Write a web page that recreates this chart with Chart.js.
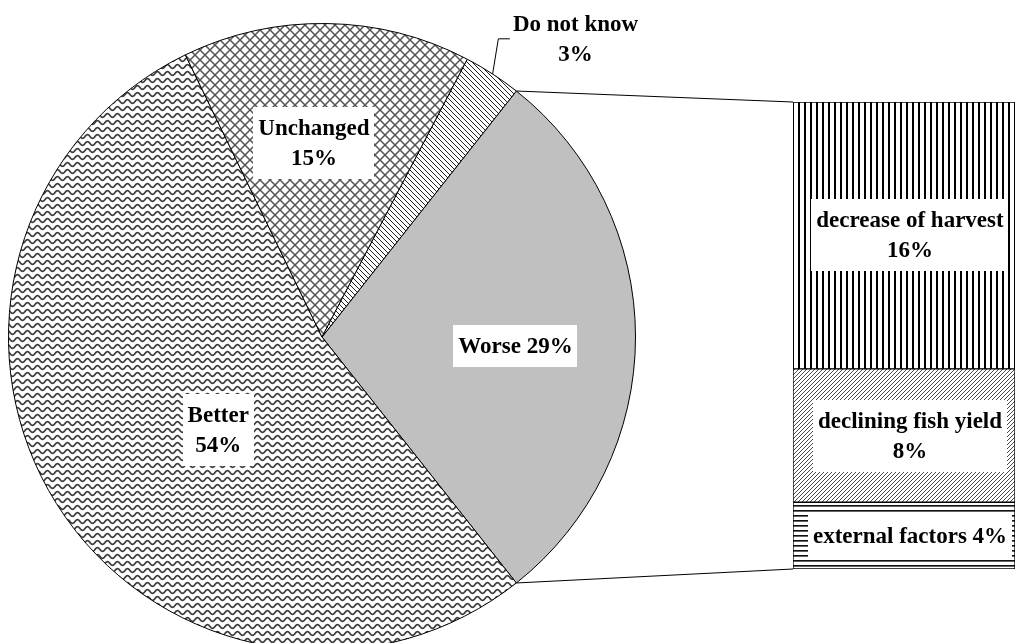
<!DOCTYPE html>
<html>
<head>
<meta charset="utf-8">
<title>Situation compared with before</title>
<script src="https://cdn.jsdelivr.net/npm/chart.js@4.4.1/dist/chart.umd.min.js"></script>
<style>
  html, body { margin: 0; padding: 0; background: #fff; overflow: hidden; }
  #wrap { position: relative; width: 1016px; height: 643px; overflow: hidden; }
  #wrap canvas { position: absolute; left: 0; top: 0; }
</style>
</head>
<body>
<div id="wrap">
  <canvas id="pieChart" width="1016" height="700"></canvas>
  <canvas id="barChart" width="1016" height="643"></canvas>
</div>
<script>
// Answers (share of respondents, %)
const pieLabels = ['Worse', 'Better', 'Unchanged', 'Do not know'];
const pieValues = [29, 54, 15, 3];

// Reasons given by those answering "Worse" (%)
const barLabels = ['decrease of harvest', 'declining fish yield', 'external factors'];
const barValues = [16, 8, 4];

// Label layout: angle in degrees (clockwise from 3 o'clock) and distance as a fraction of the radius
const piePlacement = [
    { angle: 2.7, dist: 0.618, oneLine: true, box: true },
    { angle: 138.2, dist: 0.444, oneLine: false, box: true },
    { angle: 267.6, dist: 0.618, oneLine: false, box: true },
    { angle: -49.65, dist: 1.249, oneLine: false, box: false, leader: { angle: -59.4, dist: 1.105 } }
];
const barPlacement = [
    { oneLine: false },
    { oneLine: false },
    { oneLine: true }
];

const FONT = 'bold 23px "Liberation Serif", "Times New Roman", serif';
const LINE_H = 30;

// Build a repeating fill pattern from a small tile
function makePattern(w, h, draw) {
    const tile = document.createElement('canvas');
    tile.width = w;
    tile.height = h;
    const c = tile.getContext('2d');
    c.fillStyle = '#fff';
    c.fillRect(0, 0, w, h);
    draw(c, w, h);
    return c.createPattern(tile, 'repeat');
}

function diagonal(c, w, h, down) {
    c.beginPath();
    for (let k = -1; k <= 1; k++) {
        if (down) {
            c.moveTo(k * w - 1, -1);
            c.lineTo(k * w + w + 1, h + 1);
        } else {
            c.moveTo(k * w - 1, h + 1);
            c.lineTo(k * w + w + 1, -1);
        }
    }
    c.stroke();
}

const wavePattern = makePattern(10, 7, (c, w, h) => {
    c.strokeStyle = '#3c3c3c';
    c.lineWidth = 1.7;
    c.beginPath();
    for (let x = -1; x <= w + 1; x += 0.5) {
        const y = 3.5 + 1.9 * Math.sin(2 * Math.PI * x / w);
        if (x === -1) c.moveTo(x, y); else c.lineTo(x, y);
    }
    c.stroke();
});

const crossPattern = makePattern(10, 10, (c, w, h) => {
    c.strokeStyle = '#555';
    c.lineWidth = 1.5;
    diagonal(c, w, h, true);
    diagonal(c, w, h, false);
});

const downDiagPattern = makePattern(5, 5, (c, w, h) => {
    c.strokeStyle = '#222';
    c.lineWidth = 1;
    diagonal(c, w, h, true);
});

const upDiagPattern = makePattern(4, 4, (c, w, h) => {
    c.strokeStyle = '#4a4a4a';
    c.lineWidth = 1;
    diagonal(c, w, h, false);
});

const verticalPattern = makePattern(6, 4, (c, w, h) => {
    c.fillStyle = '#000';
    c.fillRect(0, 0, 2, h);
});

const horizontalPattern = makePattern(4, 5, (c, w, h) => {
    c.fillStyle = '#111';
    c.fillRect(0, 0, w, 1);
    c.fillStyle = '#666';
    c.fillRect(0, 1, w, 1);
});

const pieFills = ['#c0c0c0', wavePattern, crossPattern, downDiagPattern];
const barFills = [verticalPattern, upDiagPattern, horizontalPattern];

const pieTotal = pieValues.reduce((a, b) => a + b, 0);
const barTotal = barValues.reduce((a, b) => a + b, 0);

function labelLines(name, value, oneLine) {
    return oneLine ? [name + ' ' + value + '%'] : [name, value + '%'];
}

// White label box with centred bold text
function drawLabel(ctx, cx, cy, lines, withBox) {
    ctx.save();
    ctx.font = FONT;
    ctx.textAlign = 'center';
    ctx.textBaseline = 'middle';
    const maxW = Math.max(...lines.map(l => ctx.measureText(l).width));
    const blockH = 22 + (lines.length - 1) * LINE_H;
    if (withBox) {
        const padX = 5, padY = 10;
        ctx.fillStyle = '#fff';
        ctx.fillRect(Math.round(cx - maxW / 2 - padX), Math.round(cy - blockH / 2 - padY),
            Math.round(maxW + 2 * padX), Math.round(blockH + 2 * padY));
    }
    ctx.fillStyle = '#000';
    lines.forEach((l, i) => {
        ctx.fillText(l, cx, cy + (i - (lines.length - 1) / 2) * LINE_H + 1);
    });
    ctx.restore();
    return maxW;
}

const pieLabelPlugin = {
    id: 'pieLabels',
    afterDraw(chart) {
        const ctx = chart.ctx;
        const arcs = chart.getDatasetMeta(0).data;
        const cx = arcs[0].x, cy = arcs[0].y, r = arcs[0].outerRadius;
        const polar = (deg, f) => {
            const a = deg * Math.PI / 180;
            return { x: cx + Math.cos(a) * r * f, y: cy + Math.sin(a) * r * f };
        };
        piePlacement.forEach((p, i) => {
            const pos = polar(p.angle, p.dist);
            const lines = labelLines(pieLabels[i], pieValues[i], p.oneLine);
            const w = drawLabel(ctx, pos.x, pos.y, lines, p.box);
            if (p.leader) {
                const arc = arcs[i];
                const mid = (arc.startAngle + arc.endAngle) / 2 * 180 / Math.PI;
                const start = polar(mid, 1.0);
                const bend = polar(p.leader.angle, p.leader.dist);
                ctx.save();
                ctx.strokeStyle = '#000';
                ctx.lineWidth = 1;
                ctx.beginPath();
                ctx.moveTo(start.x, start.y);
                ctx.lineTo(bend.x, bend.y);
                ctx.lineTo(pos.x - w / 2 - 3, bend.y);
                ctx.stroke();
                ctx.restore();
            }
        });
    }
};

const pieChart = new Chart(document.getElementById('pieChart'), {
    type: 'pie',
    data: {
        labels: pieLabels,
        datasets: [{
            data: pieValues,
            backgroundColor: pieFills,
            borderColor: '#000',
            borderWidth: 1
        }]
    },
    options: {
        responsive: false,
        animation: false,
        // first slice centred on the right-hand side, facing the bar
        rotation: 90 - (pieValues[0] / pieTotal) * 180,
        layout: { padding: { left: 8, top: 23, right: 380, bottom: 49 } },
        plugins: {
            legend: { display: false },
            tooltip: { enabled: false }
        }
    },
    plugins: [pieLabelPlugin]
});

// Labels on the stacked bar plus the two connector lines back to the pie
const barLabelPlugin = {
    id: 'barLabels',
    afterDraw(chart) {
        const ctx = chart.ctx;
        const n = barLabels.length;
        barLabels.forEach((name, i) => {
            // datasets are stacked bottom-up, so the first reason is the last dataset
            const bar = chart.getDatasetMeta(n - 1 - i).data[0];
            const midY = (bar.y + bar.base) / 2;
            drawLabel(ctx, bar.x + 6, midY, labelLines(name, barValues[i], barPlacement[i].oneLine), true);
        });

        const top = chart.getDatasetMeta(n - 1).data[0];
        const bottom = chart.getDatasetMeta(0).data[0];
        const left = top.x - top.width / 2;
        const arc = pieChart.getDatasetMeta(0).data[0];
        const p1 = { x: arc.x + Math.cos(arc.startAngle) * arc.outerRadius, y: arc.y + Math.sin(arc.startAngle) * arc.outerRadius };
        const p2 = { x: arc.x + Math.cos(arc.endAngle) * arc.outerRadius, y: arc.y + Math.sin(arc.endAngle) * arc.outerRadius };
        ctx.save();
        ctx.strokeStyle = '#000';
        ctx.lineWidth = 1;
        ctx.beginPath();
        ctx.moveTo(p1.x, p1.y);
        ctx.lineTo(left, top.y);
        ctx.moveTo(p2.x, p2.y);
        ctx.lineTo(left, bottom.base);
        ctx.stroke();
        ctx.restore();
    }
};

new Chart(document.getElementById('barChart'), {
    type: 'bar',
    data: {
        labels: ['Worse'],
        datasets: barLabels.map((name, i) => ({
            label: name,
            data: [barValues[i]],
            backgroundColor: barFills[i],
            borderColor: '#000',
            borderWidth: 1,
            borderSkipped: false,
            categoryPercentage: 1,
            barPercentage: 1
        })).reverse()
    },
    options: {
        responsive: false,
        animation: false,
        layout: { padding: { left: 793, right: 1, top: 102, bottom: 74 } },
        scales: {
            x: { display: false, stacked: true },
            y: { display: false, stacked: true, min: 0, max: barTotal }
        },
        plugins: {
            legend: { display: false },
            tooltip: { enabled: false }
        }
    },
    plugins: [barLabelPlugin]
});
</script>
</body>
</html>
